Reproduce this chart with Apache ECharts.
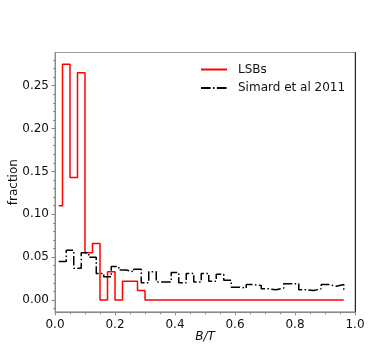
<!DOCTYPE html>
<html>
<head>
<meta charset="utf-8">
<script src="https://cdn.jsdelivr.net/npm/echarts@6/dist/echarts.min.js"></script>
<style>
html,body{margin:0;padding:0;background:#fff;}
#chart{width:374px;height:347px;}
</style>
</head>
<body>
<div id="chart"></div>
<script>
// bin centres (B/T)
var binX = [0.0125, 0.0375, 0.0625, 0.0875, 0.1125, 0.1375, 0.1625, 0.1875, 0.2125, 0.2375,
            0.2625, 0.2875, 0.3125, 0.3375, 0.3625, 0.3875, 0.4125, 0.4375, 0.4625, 0.4875,
            0.5125, 0.5375, 0.5625, 0.5875, 0.6125, 0.6375, 0.6625, 0.6875, 0.7125, 0.7375,
            0.7625, 0.7875, 0.8125, 0.8375, 0.8625, 0.8875, 0.9125, 0.9375, 0.9625];
// LSBs fraction
var lsbs = [0.110, 0.275, 0.143, 0.265, 0.055, 0.066, 0.000, 0.033, 0.000, 0.022,
            0.022, 0.011, 0.000, 0.000, 0.000, 0.000, 0.000, 0.000, 0.000, 0.000,
            0.000, 0.000, 0.000, 0.000, 0.000, 0.000, 0.000, 0.000, 0.000, 0.000,
            0.000, 0.000, 0.000, 0.000, 0.000, 0.000, 0.000, 0.000, 0.000];
// Simard et al 2011 fraction
var simard = [0.045, 0.058, 0.037, 0.055, 0.050, 0.031, 0.027, 0.039, 0.035, 0.033,
              0.036, 0.020, 0.033, 0.021, 0.021, 0.032, 0.020, 0.031, 0.021, 0.031,
              0.022, 0.030, 0.023, 0.015, 0.014, 0.018, 0.017, 0.013, 0.012, 0.014,
              0.019, 0.019, 0.012, 0.011, 0.013, 0.018, 0.016, 0.018, 0.011];
var seriesNames = ['LSBs', 'Simard et al 2011'];
var yTicks = [0, 0.05, 0.10, 0.15, 0.20, 0.25];
var yMinorTicks = [-0.01, 0.01, 0.02, 0.03, 0.04, 0.06, 0.07, 0.08, 0.09, 0.11, 0.12, 0.13, 0.14,
                   0.16, 0.17, 0.18, 0.19, 0.21, 0.22, 0.23, 0.24, 0.26, 0.27, 0.28];
var xName = 'B/T', yName = 'fraction';

function pairs(xs, ys) { return xs.map(function (x, i) { return [x, ys[i]]; }); }

var FONT = 'DejaVu Sans';
var AX = '#888';
var chart = echarts.init(document.getElementById('chart'), null, {renderer: 'canvas'});
chart.setOption({
  animation: false,
  backgroundColor: '#fff',
  textStyle: {fontFamily: FONT},
  grid: {left: 55, top: 52.5, width: 300, height: 259.3, show: true, borderColor: '#999', borderWidth: 1,
         backgroundColor: 'transparent', containLabel: false, outerBoundsMode: 'none'},
  legend: {
    orient: 'vertical', left: 200, top: 63.5, padding: 0,
    itemWidth: 26, itemHeight: 12, itemGap: 6.4,
    itemStyle: {opacity: 0},
    textStyle: {fontFamily: FONT, fontSize: 12, color: '#111', padding: [0, 0, 0, 6]},
    data: seriesNames
  },
  xAxis: {
    type: 'value', min: 0, max: 1, interval: 0.2,
    name: xName, nameLocation: 'middle', nameGap: 19, nameMoveOverlap: false,
    nameTextStyle: {fontFamily: FONT, fontSize: 12, fontStyle: 'italic', color: '#111'},
    axisLine: {onZero: false, lineStyle: {color: AX, width: 1}},
    axisTick: {show: true, length: 3.5, lineStyle: {color: AX}},
    minorTick: {show: true, splitNumber: 4, length: 2.5, lineStyle: {color: AX}},
    axisLabel: {fontFamily: FONT, fontSize: 12, color: '#111', margin: 7,
      formatter: function (v) { return v.toFixed(1); }},
    splitLine: {show: false}
  },
  yAxis: [{
    type: 'value', min: -0.01375, max: 0.28875,
    name: yName, nameLocation: 'middle', nameGap: 35, nameRotate: 90, nameMoveOverlap: false,
    nameTextStyle: {fontFamily: FONT, fontSize: 12, color: '#111'},
    axisLine: {show: true, onZero: false, lineStyle: {color: AX, width: 1}},
    axisTick: {show: true, length: 3.5, customValues: yTicks, lineStyle: {color: AX}},
    axisLabel: {fontFamily: FONT, fontSize: 12, color: '#111', margin: 6, customValues: yTicks,
      formatter: function (v) { return Number(v).toFixed(2); }},
    splitLine: {show: false}
  }, {
    type: 'value', min: -0.01375, max: 0.28875, position: 'left',
    axisLine: {show: false, onZero: false},
    axisTick: {show: true, length: 2, customValues: yMinorTicks, lineStyle: {color: AX}},
    axisLabel: {show: false},
    splitLine: {show: false}
  }, {
    type: 'value', min: -0.01375, max: 0.28875, position: 'right',
    axisLine: {show: true, onZero: false, lineStyle: {color: '#222', width: 1}},
    axisTick: {show: false},
    axisLabel: {show: false},
    splitLine: {show: false}
  }],
  series: [{
    name: seriesNames[0], type: 'line', step: 'middle', symbol: 'none',
    data: pairs(binX, lsbs),
    lineStyle: {color: '#ff0000', width: 1.5},
    itemStyle: {color: '#ff0000'},
    z: 2
  }, {
    name: seriesNames[1], type: 'line', step: 'end', symbol: 'none',
    data: pairs(binX, simard),
    lineStyle: {color: '#000', width: 1.5, type: [9.6, 2.4, 1.5, 2.4]},
    itemStyle: {color: '#000'},
    z: 3
  }]
});
</script>
</body>
</html>
